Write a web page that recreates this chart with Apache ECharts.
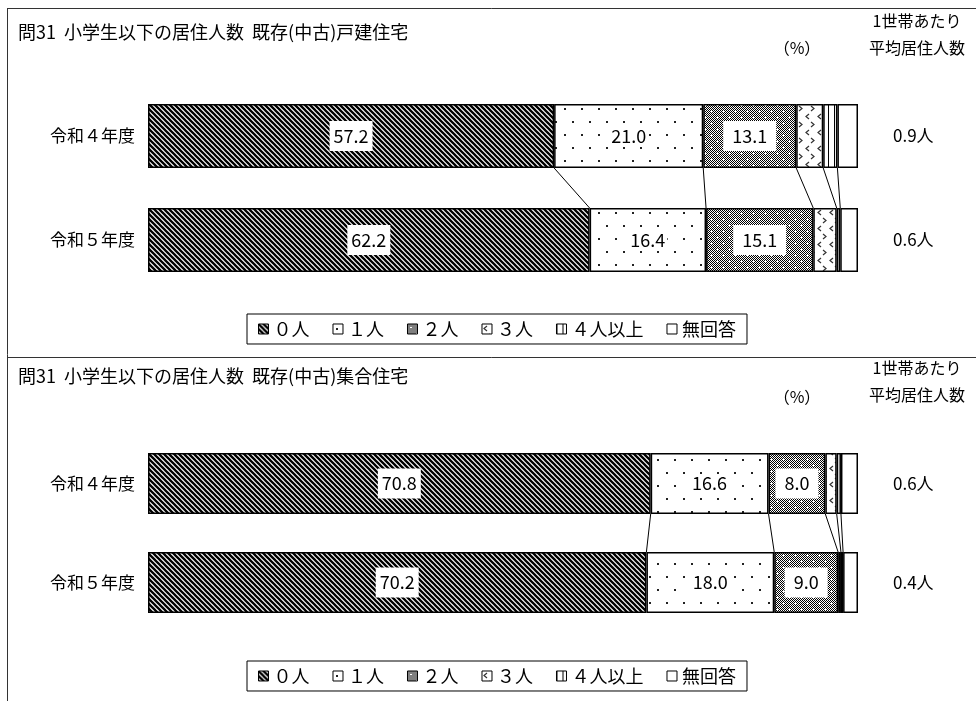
<!DOCTYPE html>
<html>
<head>
<meta charset="utf-8">
<script src="https://cdn.jsdelivr.net/npm/echarts@6/dist/echarts.min.js"></script>
<style>
  html, body { margin: 0; padding: 0; background: #fff; }
  #main { width: 976px; height: 701px; }
</style>
</head>
<body>
<div id="main"></div>
<script>
// data
const years = ['令和４年度', '令和５年度'];
const groups = ['０人', '１人', '２人', '３人', '４人以上', '無回答'];
const detachedR4 = [57.2, 21.0, 13.1, 3.8, 2.0, 2.9];
const detachedR5 = [62.2, 16.4, 15.1, 3.3, 0.5, 2.5];
const condoR4 = [70.8, 16.6, 8.0, 1.6, 0.6, 2.4];
const condoR5 = [70.2, 18.0, 9.0, 0.4, 0.3, 2.1];
const detachedAvg = ['0.9人', '0.6人'];
const condoAvg = ['0.6人', '0.4人'];
const titles = ['問31  小学生以下の居住人数  既存(中古)戸建住宅', '問31  小学生以下の居住人数  既存(中古)集合住宅'];

const FONT = 'Noto Sans CJK JP';

// fill patterns
function tile(w, h, draw) {
  const c = document.createElement('canvas');
  c.width = w; c.height = h;
  const g = c.getContext('2d');
  g.fillStyle = '#fff';
  g.fillRect(0, 0, w, h);
  draw(g);
  return c;
}
const hatch = tile(5, 5, g => {
  g.strokeStyle = '#000'; g.lineWidth = 2.3;
  g.beginPath();
  for (let o = -5; o <= 5; o += 5) { g.moveTo(o - 1, -1); g.lineTo(o + 6, 6); }
  g.stroke();
});
const dots = tile(17, 26, g => {
  g.fillStyle = '#222';
  g.fillRect(3, 4, 2, 2);
  g.fillRect(11, 17, 2, 2);
});
const checker = tile(12, 12, g => {
  g.fillStyle = '#000';
  for (let x = 0; x < 12; x++) for (let y = 0; y < 12; y++) if ((x + y) % 2 === 0) g.fillRect(x, y, 1, 1);
  g.fillStyle = '#fff';
  [[3, 3], [9, 9]].forEach(p => { g.fillRect(p[0] - 1, p[1], 3, 1); g.fillRect(p[0], p[1] - 1, 1, 3); });
});
const chevrons = tile(12, 16, g => {
  g.strokeStyle = '#333'; g.lineWidth = 1.2;
  g.beginPath();
  g.moveTo(5, 2); g.lineTo(2, 4.5); g.lineTo(5, 7);
  g.moveTo(7, 10); g.lineTo(10, 12.5); g.lineTo(7, 15);
  g.stroke();
});
const vlines = tile(6, 6, g => { g.fillStyle = '#000'; g.fillRect(0, 0, 1, 6); });
const fills = [hatch, dots, checker, chevrons, vlines, null].map(c => c ? { image: c, repeat: 'repeat' } : '#fff');

const labelPads = [[7, 4, 5, 4], [1, 2, 0, 2], [7, 9, 5, 9]];

const panels = [
  { rows: [detachedR4, detachedR5], avg: detachedAvg, top: 84, height: 208, barW: 64 },
  { rows: [condoR4, condoR5], avg: condoAvg, top: 434, height: 198, barW: 61 }
];

const grid = [], xAxis = [], yAxis = [], series = [];
panels.forEach((p, i) => {
  grid.push({ left: 148, width: 710, top: p.top, height: p.height });
  xAxis.push({ type: 'value', gridIndex: i, min: 0, max: 100, show: false });
  yAxis.push({
    type: 'category', gridIndex: i, data: years, inverse: true,
    axisLine: { show: false }, axisTick: { show: false },
    axisLabel: { color: '#000', fontSize: 17, fontFamily: FONT, margin: 13 }
  });
  yAxis.push({
    type: 'category', gridIndex: i, data: p.avg, inverse: true, position: 'right',
    axisLine: { show: false }, axisTick: { show: false },
    axisLabel: { color: '#000', fontSize: 17, fontFamily: FONT, margin: 35, align: 'left' }
  });
  groups.forEach((name, k) => {
    series.push({
      name, type: 'bar', stack: 'p' + i, xAxisIndex: i, yAxisIndex: i * 2,
      barWidth: p.barW,
      data: p.rows.map(r => r[k]),
      itemStyle: { color: fills[k], borderColor: '#000', borderWidth: 1.5 },
      label: {
        show: k < 3, position: 'inside', color: '#000', fontSize: 18, fontFamily: FONT,
        backgroundColor: '#fff', padding: labelPads[k] || 0,
        formatter: d => d.value.toFixed(1)
      },
      emphasis: { disabled: true }
    });
  });
  // connector lines between segment boundaries
  const bounds = [];
  let a = 0, b = 0;
  for (let k = 0; k < groups.length - 1; k++) {
    a += p.rows[0][k]; b += p.rows[1][k];
    bounds.push([a, b, 0]);
  }
  const half = p.barW / 2;
  series.push({
    type: 'custom', xAxisIndex: i, yAxisIndex: i * 2, silent: true, z: 1,
    encode: { x: [0, 1], y: 2 },
    data: bounds,
    renderItem: (params, api) => {
      const s = api.coord([api.value(0), 0]);
      const e = api.coord([api.value(1), 1]);
      return {
        type: 'line',
        shape: { x1: s[0], y1: s[1] + half, x2: e[0], y2: e[1] - half },
        style: { stroke: '#000', lineWidth: 1 }
      };
    }
  });
});

const legendBase = {
  data: groups, left: 247, icon: 'rect', itemWidth: 10, itemHeight: 10, itemGap: 23,
  borderColor: '#000', borderWidth: 1, padding: [6, 11],
  itemStyle: { borderWidth: 1 },
  textStyle: { fontSize: 18, color: '#000', fontFamily: FONT }
};

const headerText = (x, y, text, size) => ({
  type: 'text', x, y,
  style: { text, fontSize: size, fontFamily: FONT, fill: '#000', textAlign: 'center', textVerticalAlign: 'middle' }
});

const chart = echarts.init(document.getElementById('main'), null, { renderer: 'canvas' });
chart.setOption({
  animation: false,
  textStyle: { fontFamily: FONT },
  title: titles.map((t, i) => ({
    text: t, left: 18, top: i === 0 ? 23 : 367, padding: 0,
    textStyle: { fontSize: 18, fontWeight: 'normal', color: '#000', fontFamily: FONT }
  })),
  legend: [
    Object.assign({}, legendBase, { top: 314 }),
    Object.assign({}, legendBase, { top: 661 })
  ],
  grid, xAxis, yAxis, series,
  graphic: [
    { type: 'line', shape: { x1: 7.5, y1: 8.5, x2: 976, y2: 8.5 }, style: { stroke: '#333', lineWidth: 1 } },
    { type: 'line', shape: { x1: 7.5, y1: 8, x2: 7.5, y2: 701 }, style: { stroke: '#333', lineWidth: 1 } },
    { type: 'line', shape: { x1: 7.5, y1: 357.5, x2: 976, y2: 357.5 }, style: { stroke: '#333', lineWidth: 1 } },
    headerText(917, 21, '1世帯あたり', 16),
    headerText(917, 48, '平均居住人数', 16),
    headerText(797, 48, '（%）', 16),
    headerText(917, 368, '1世帯あたり', 16),
    headerText(917, 395, '平均居住人数', 16),
    headerText(797, 397, '（%）', 16)
  ]
});
</script>
</body>
</html>
